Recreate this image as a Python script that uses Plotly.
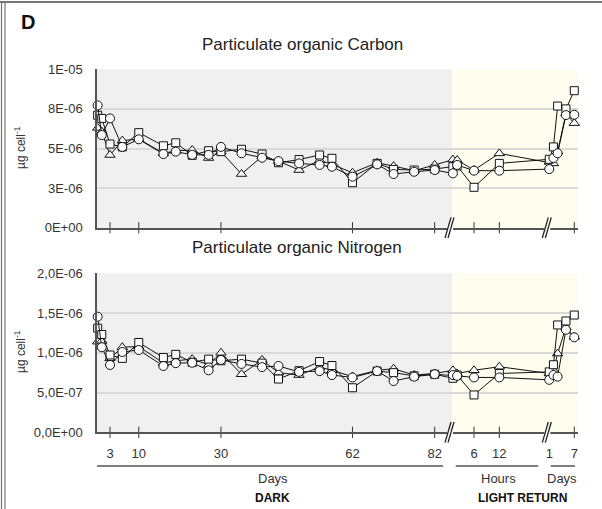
import plotly.graph_objects as go

# ---------------- data ----------------
dark_days = [0, 1, 3, 6, 10, 16, 19, 23, 27, 30, 35, 40, 44, 49, 54, 57, 62, 68, 72, 77, 82]
light_hours = [1, 2, 6, 12]
light_days = [1, 2, 3, 5, 7]

# Particulate organic carbon (ug cell-1, x1e-6)
carbon_circle = [7.72, 5.85, 6.9, 5.1, 5.58, 4.65, 4.8, 4.6, 4.6, 5.1, 4.7, 4.42, 4.2, 4.06, 3.96, 3.85, 3.22, 4.0, 3.39, 3.53, 3.64,
                 3.43, 3.96, 3.6, 3.6,
                 3.7, 4.4, 4.7, 7.11, 7.13]
carbon_square = [7.1, 6.9, 5.28, 5.1, 6.0, 5.17, 5.36, 4.57, 4.86, 4.8, 4.95, 4.65, 4.1, 4.3, 4.59, 4.38, 2.84, 4.06, 3.68, 3.64, 3.7,
                 3.85, 3.9, 2.55, 4.06,
                 4.32, 5.1, 7.68, 7.5, 8.65]
carbon_triangle = [6.3, 6.06, 4.59, 5.5, 5.6, 4.7, 4.85, 4.9, 4.4, 4.8, 3.39, 4.5, 4.2, 3.64, 4.25, 4.0, 3.47, 4.1, 3.89, 3.6, 3.96,
                   4.3, 4.27, 3.64, 4.69,
                   4.15, 4.06, 4.8, 7.2, 6.6]

# Particulate organic nitrogen (ug cell-1, x1e-6)
nitrogen_circle = [1.454, 1.07, 0.847, 1.01, 1.035, 0.834, 0.87, 0.875, 0.78, 0.91, 0.86, 0.82, 0.834, 0.76, 0.77, 0.72, 0.69, 0.77, 0.645, 0.70, 0.73,
                   0.72, 0.71, 0.69, 0.69,
                   0.66, 0.72, 0.70, 1.29, 1.195]
nitrogen_square = [1.31, 1.23, 0.972, 0.93, 1.13, 0.94, 0.98, 0.88, 0.92, 0.9, 0.92, 0.87, 0.67, 0.775, 0.89, 0.84, 0.56, 0.77, 0.75, 0.71, 0.73,
                   0.68, 0.72, 0.47, 0.74,
                   0.76, 0.85, 1.35, 1.40, 1.475]
nitrogen_triangle = [1.14, 1.15, 0.93, 1.07, 1.08, 0.87, 0.9, 0.92, 0.85, 1.0, 0.73, 0.91, 0.75, 0.72, 0.82, 0.78, 0.7, 0.78, 0.80, 0.72, 0.74,
                     0.78, 0.74, 0.78, 0.825,
                     0.74, 0.78, 0.99, 1.32, 1.2]

dark_tick_days = [3, 10, 30, 62, 82]
hour_ticks = [6, 12]
day_tick_labels = [1, 7]

carbon_ticks = [0, 2.5e-6, 5e-6, 7.5e-6, 1e-5]
carbon_ticktext = ["0E+00", "3E-06", "5E-06", "8E-06", "1E-05"]
nitrogen_ticks = [0, 5e-7, 1e-6, 1.5e-6, 2e-6]
nitrogen_ticktext = ["0,0E+00", "5,0E-07", "1,0E-06", "1,5E-06", "2,0E-06"]

# ---------------- broken time axis ----------------
def pos_dark(d):
    return 0.66 + 4.11 * d

def pos_hours(h):
    return 351.7 + 4.22 * h

def pos_days(d):
    return 448.1 + 4.17 * d

X = [pos_dark(d) for d in dark_days] + [pos_hours(h) for h in light_hours] + [pos_days(d) for d in light_days]
XMAX = 481
DARK_END = 355
BREAK1 = 353
BREAK2 = 450.3

tick_pos = [pos_dark(d) for d in dark_tick_days] + [pos_hours(h) for h in hour_ticks] + [pos_days(d) for d in day_tick_labels]
tick_txt = [str(d) for d in dark_tick_days] + [str(h) for h in hour_ticks] + [str(d) for d in day_tick_labels]
tickmark_pos = tick_pos[:7] + [pos_days(7)]

W, H = 602, 509
FONT = "Liberation Sans, Arial, sans-serif"

def py(px):
    return 1 - px / H

def pxx(px):
    return px / W

fig = go.Figure()

def add_series(vals, symbol, xa, ya, size):
    fig.add_trace(go.Scatter(
        x=X, y=[v * 1e-6 for v in vals], mode="lines+markers",
        line=dict(color="#111", width=1),
        marker=dict(symbol=symbol, size=size, color="white", line=dict(color="#111", width=1)),
        xaxis=xa, yaxis=ya, showlegend=False, cliponaxis=False))

for xa, ya, (tri, sq, ci) in [("x", "y", (carbon_triangle, carbon_square, carbon_circle)),
                              ("x2", "y2", (nitrogen_triangle, nitrogen_square, nitrogen_circle))]:
    add_series(tri, "triangle-up", xa, ya, 9)
    add_series(sq, "square", xa, ya, 8)
    add_series(ci, "circle", xa, ya, 9)
    # tick marks crossing the axis line
    fig.add_trace(go.Scatter(
        x=tickmark_pos, y=[0] * len(tickmark_pos), mode="markers",
        marker=dict(symbol="line-ns", size=8, line=dict(color="#333", width=1)),
        xaxis=xa, yaxis=ya, showlegend=False, cliponaxis=False, hoverinfo="skip"))

xdom = [pxx(97), pxx(578)]
ydom_top = [py(227.7), py(69.3)]
ydom_bot = [py(432.3), py(273.3)]

axis_common = dict(domain=xdom, range=[0, XMAX], showgrid=False, zeroline=False, automargin=False,
                   showline=True, linecolor="#555", linewidth=1.5, fixedrange=True)
yfont = dict(family=FONT, size=13, color="#333")
fig.update_layout(
    xaxis=dict(axis_common, anchor="y", showticklabels=False, ticks=""),
    xaxis2=dict(axis_common, anchor="y2", tickvals=tick_pos, ticktext=tick_txt,
                ticks="outside", ticklen=8, tickcolor="rgba(0,0,0,0)",
                tickfont=dict(family=FONT, size=13, color="#333")),
    yaxis=dict(domain=ydom_top, anchor="x", range=[0, 1e-5], tickvals=carbon_ticks, ticktext=carbon_ticktext,
               showgrid=True, gridcolor="#d9d9d9", gridwidth=1.5, zeroline=False, automargin=False,
               showline=True, linecolor="#555", linewidth=1.5, ticks="", ticklabelstandoff=10,
               tickfont=yfont),
    yaxis2=dict(domain=ydom_bot, anchor="x2", range=[0, 2e-6], tickvals=nitrogen_ticks, ticktext=nitrogen_ticktext,
                showgrid=True, gridcolor="#d9d9d9", gridwidth=1.5, zeroline=False, automargin=False,
                showline=True, linecolor="#555", linewidth=1.5, ticks="", ticklabelstandoff=10,
                tickfont=yfont),
    width=W, height=H, margin=dict(l=0, r=0, t=0, b=0, pad=0, autoexpand=False),
    paper_bgcolor="white", plot_bgcolor="white", showlegend=False,
    font=dict(family=FONT, color="#222"),
)

shapes = []
for xr, yr in [("x", "y domain"), ("x2", "y2 domain")]:
    shapes.append(dict(type="rect", xref=xr, yref=yr, x0=0, x1=DARK_END, y0=0, y1=1,
                       fillcolor="#f0f0f0", line=dict(width=0), layer="below"))
    shapes.append(dict(type="rect", xref=xr, yref=yr, x0=DARK_END, x1=XMAX, y0=0, y1=1,
                       fillcolor="#fefdee", line=dict(width=0), layer="below"))
    for b in (BREAK1, BREAK2):
        shapes.append(dict(type="rect", xref=xr, yref=yr, x0=b - 3, x1=b + 3, y0=-0.015, y1=0.015,
                           fillcolor="white", line=dict(width=0), layer="above"))
        for off in (-2, 1):
            shapes.append(dict(type="line", xref=xr, yref=yr, x0=b + off - 3, x1=b + off + 3,
                               y0=-0.065, y1=0.065, line=dict(color="#222", width=1.3), layer="above"))

# group lines under the tick labels
yl = py(466)
for x0, x1 in [(0, 346), (358.7, 441.3), (453.7, 478)]:
    shapes.append(dict(type="line", xref="x2", yref="paper", x0=x0, x1=x1, y0=yl, y1=yl,
                       line=dict(color="#555", width=1.5)))

# figure frame
shapes.append(dict(type="line", xref="paper", yref="paper", x0=0, x1=1, y0=py(2), y1=py(2),
                   line=dict(color="#777", width=2)))
for xp in (1.5, 5):
    shapes.append(dict(type="line", xref="paper", yref="paper", x0=pxx(xp), x1=pxx(xp), y0=0, y1=py(2),
                       line=dict(color="#777", width=1.2)))
fig.update_layout(shapes=shapes)

def note(text, x, y, size, xref="paper", angle=0, family=FONT, color="#222"):
    return dict(text=text, x=x, y=y, xref=xref, yref="paper", xanchor="center", yanchor="middle",
                textangle=angle, showarrow=False, font=dict(family=family, size=size, color=color))

ann = [
    note("<b>D</b>", pxx(27.5), py(21.5), 20, color="#111"),
    note("Particulate organic Carbon", pxx(302), py(44), 17),
    note("Particulate organic Nitrogen", pxx(297), py(247), 17),
]
for yc in (148, 352):
    ann.append(note("µg cell<sup>-1</sup>", pxx(20), py(yc), 12, angle=-90, color="#333"))
for txt, xc in [("Days", 176), ("Hours", 401), ("Days", 465)]:
    ann.append(note(txt, xc, py(478.5), 13, xref="x2", color="#333"))
for txt, xc in [("DARK", 175), ("LIGHT RETURN", 425.7)]:
    ann.append(note("<b>" + txt + "</b>", xc, py(498), 12, xref="x2",
                    family="Liberation Sans Narrow, " + FONT, color="#111"))
fig.update_layout(annotations=ann)

fig.write_html("out.html")
